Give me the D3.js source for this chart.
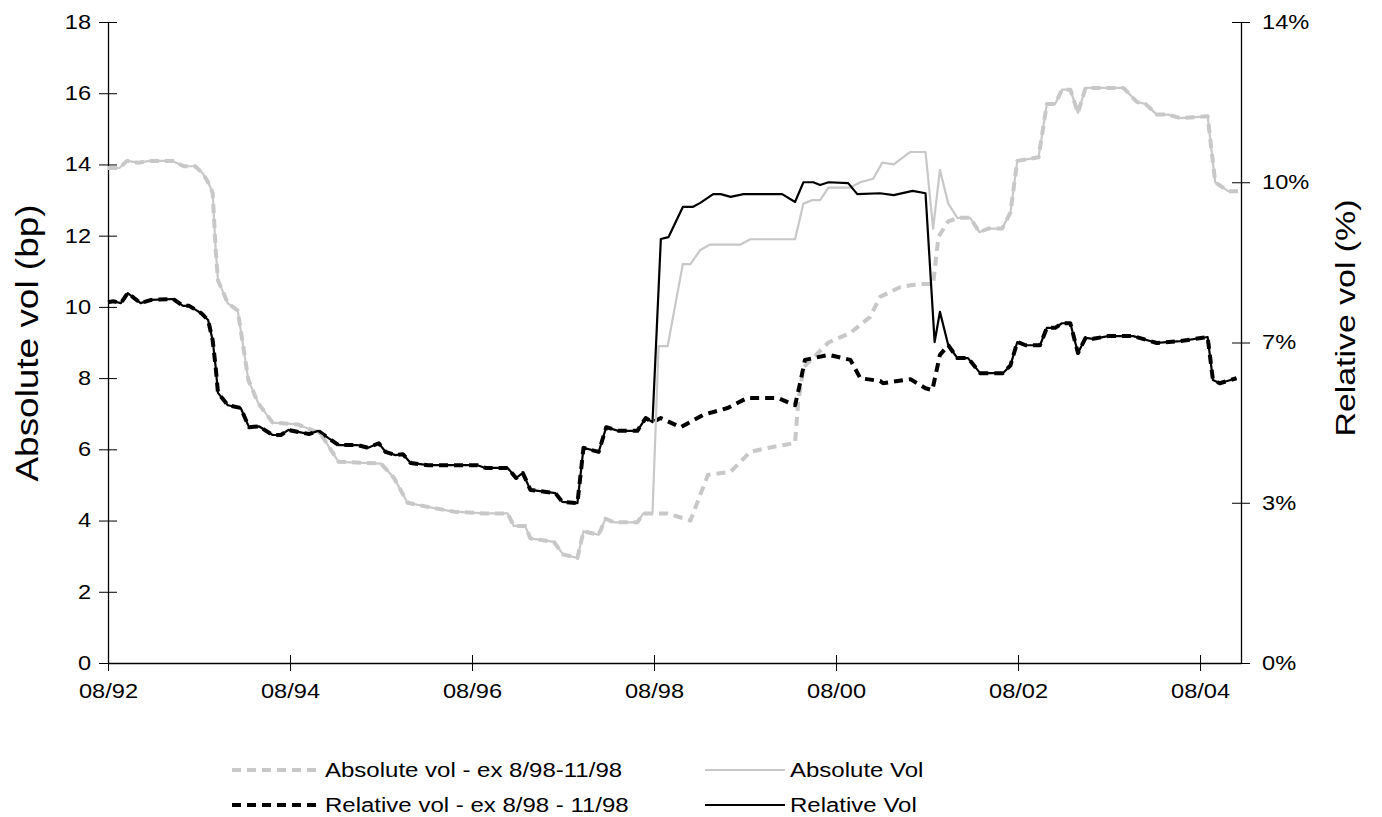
<!DOCTYPE html>
<html>
<head>
<meta charset="utf-8">
<script src="https://cdn.jsdelivr.net/npm/d3@7"></script>
<style>
  body { margin: 0; background: #fff; }
  text { font-family: Arial, "Liberation Sans", sans-serif; fill: #000; }
</style>
</head>
<body>
<div class="chart"></div>
<script>
// months since 08/92
var absMonths = [0,1.5,2.5,4,5.5,8.5,10,11.5,12.5,13.2,13.8,14.2,14.5,15.8,17.1,17.9,18.5,19.8,21.7,25,28,30.4,36,37.7,39.5,43,45.6,49.6,52.7,53.5,55,55.7,58.8,60,61.9,62.7,64.7,65.6,66.7,69.8,70.6,71.8,72.6,73.8,75.8,76.8,78.1,79.4,83.4,84.7,87.4,90.6,91.7,92.9,93.9,95,97.9,99.2,100.9,102.1,103.6,105.8,107.8,108.8,109.7,110.8,112,113.7,114.9,116.1,117.9,119,119.9,122.7,123.8,124.9,125.8,126.9,127.9,128.9,133.9,135.7,136.8,138.3,139.8,141.4,145,146,147.7,149]
var absVol = [13.9,13.9,14.1,14.05,14.1,14.1,13.95,13.95,13.75,13.5,13.2,11.6,10.75,10.1,9.9,8.8,7.95,7.3,6.75,6.7,6.45,5.65,5.6,5.2,4.5,4.35,4.25,4.2,4.2,3.85,3.85,3.5,3.4,3.05,2.95,3.7,3.6,4.05,3.95,3.95,4.2,4.2,8.9,8.9,11.2,11.2,11.6,11.75,11.75,11.9,11.9,11.9,12.9,13.0,13.0,13.35,13.35,13.5,13.6,14.05,14.0,14.35,14.35,12.2,13.85,12.9,12.5,12.5,12.1,12.2,12.2,12.65,14.1,14.2,15.7,15.7,16.1,16.1,15.45,16.15,16.15,15.75,15.7,15.4,15.4,15.3,15.35,13.5,13.25,13.25]

var relMonths = [0,0.7,1.7,2.6,4.3,5.7,8.6,9.9,10.7,12.3,13.2,13.8,14.2,14.5,15.8,17.5,18.6,19.9,21.7,22.8,23.8,26.5,27.7,30.4,32.9,34.3,35.7,36.6,37.9,38.9,39.9,42.2,48.7,49.8,52.7,53.8,54.7,55.7,59.0,59.9,61.9,62.7,64.7,65.7,67.3,69.8,70.9,71.8,72.9,73.9,75.8,77.1,78.1,79.8,80.8,82.1,83.8,88.9,90.6,91.7,93.0,93.9,95.0,97.6,98.8,101.8,103.6,106.1,107.8,109.0,109.7,110.8,112.0,113.4,115.0,118.0,119.0,119.9,121.0,122.9,123.8,124.9,125.8,126.9,127.9,128.9,129.9,131.9,135.2,138.3,141.4,145.0,145.7,146.6,148.8]
var relVol = [7.88,7.9,7.86,8.08,7.86,7.93,7.95,7.8,7.8,7.64,7.49,7.05,6.46,5.9,5.63,5.57,5.15,5.17,4.98,4.98,5.09,5.0,5.07,4.76,4.76,4.7,4.8,4.61,4.54,4.56,4.37,4.32,4.32,4.26,4.26,4.04,4.15,3.78,3.71,3.52,3.49,4.7,4.61,5.15,5.07,5.07,5.35,5.26,9.26,9.3,9.96,9.96,10.05,10.24,10.24,10.18,10.24,10.24,10.07,10.5,10.5,10.44,10.5,10.48,10.24,10.26,10.22,10.31,10.26,7.01,7.67,6.94,6.66,6.66,6.33,6.33,6.5,7.01,6.94,6.94,7.32,7.32,7.42,7.42,6.77,7.1,7.08,7.14,7.14,6.99,7.03,7.12,6.18,6.11,6.22]

// series excluding 8/98-11/98, where they differ from the full series
var absExMonths = [72.2,73.8,76.8,79.1,82.1,84.7,87,90.6,91.0,91.7,95,97.9,100.5,101.8,104.5,106.8,108.8,109.5,110.8]
var absExVol = [4.2,4.2,4.0,5.28,5.37,5.93,6.04,6.18,7.3,8.3,9.0,9.27,9.72,10.28,10.56,10.64,10.64,11.97,12.4]
var relExMonths = [72.9,75.5,78.5,81.7,84.3,88.3,90.6,91.3,91.9,95,97.9,99.2,101.8,102.2,105.8,107.8,108.7,109.7]
var relExVol = [5.35,5.15,5.42,5.57,5.79,5.79,5.63,6.14,6.62,6.73,6.62,6.22,6.16,6.11,6.2,6.0,5.96,6.73]

var xTickMonths = [0,24,48,72,96,120,144]
var xTickLabels = ["08/92","08/94","08/96","08/98","08/00","08/02","08/04"]
var leftTicks = [0,2,4,6,8,10,12,14,16,18]
var rightTicks = [0,3.5,7,10.5,14]
var rightTickLabels = ["0%","3%","7%","10%","14%"]

var width = 1382, height = 817
var svg = d3.select(".chart").append("svg").attr("width", width).attr("height", height)

var x = d3.scaleLinear().domain([0, 149.4]).range([108, 1241])
var yL = d3.scaleLinear().domain([0, 18]).range([663, 22])
var yR = d3.scaleLinear().domain([0, 14]).range([663, 22])

function pts(ms, vs) { return ms.map(function (m, i) { return [m, vs[i]] }) }
function merge(baseM, baseV, exM, exV) {
  var a = exM[0], b = exM[exM.length - 1]
  return pts(baseM, baseV).filter(function (p) { return p[0] < a || p[0] > b })
    .concat(pts(exM, exV)).sort(function (p, q) { return p[0] - q[0] })
}
// the original picture is a bit wider than its fonts: stretch text horizontally
function stretch(sel, k) {
  sel.each(function () {
    this.setAttribute("textLength", this.getComputedTextLength() * k)
    this.setAttribute("lengthAdjust", "spacingAndGlyphs")
  })
}

var absAll = pts(absMonths, absVol), relAll = pts(relMonths, relVol)
var absEx = merge(absMonths, absVol, absExMonths, absExVol)
var relEx = merge(relMonths, relVol, relExMonths, relExVol)

var lineL = d3.line().x(function (d) { return x(d[0]) }).y(function (d) { return yL(d[1]) })
var lineR = d3.line().x(function (d) { return x(d[0]) }).y(function (d) { return yR(d[1]) })

// axes
var axL = svg.append("g").attr("transform", "translate(108,0)")
  .call(d3.axisLeft(yL).tickValues(leftTicks).tickSize(0).tickPadding(17))
axL.selectAll(".tick").append("line").attr("x1", -9).attr("x2", 9).attr("stroke", "#000")
var axR = svg.append("g").attr("transform", "translate(1241,0)")
  .call(d3.axisRight(yR).tickValues(rightTicks).tickFormat(function (d, i) { return rightTickLabels[i] }).tickSize(0).tickPadding(21))
axR.selectAll(".tick").append("line").attr("x1", -9).attr("x2", 9).attr("stroke", "#000")
var axB = svg.append("g").attr("transform", "translate(0,663)")
  .call(d3.axisBottom(x).tickValues(xTickMonths).tickFormat(function (d, i) { return xTickLabels[i] }).tickSize(0).tickPadding(18))
axB.selectAll(".tick").append("line").attr("y1", -8).attr("y2", 8).attr("stroke", "#000")
;[axL, axR, axB].forEach(function (g) {
  g.select(".domain").attr("stroke", "#000").attr("stroke-width", 1.3)
  g.selectAll("text").attr("font-size", 20).attr("font-family", "Arial, 'Liberation Sans', sans-serif")
  stretch(g.selectAll("text"), 1.18)
})
axB.selectAll("text").attr("dy", "0.85em")

svg.append("text").attr("transform", "translate(38,343) rotate(-90)").attr("text-anchor", "middle")
  .attr("font-size", 31).attr("textLength", 277).attr("lengthAdjust", "spacingAndGlyphs").text("Absolute vol (bp)")
svg.append("text").attr("transform", "translate(1355,318) rotate(-90)").attr("text-anchor", "middle")
  .attr("font-size", 27).attr("textLength", 237).attr("lengthAdjust", "spacingAndGlyphs").text("Relative vol (%)")

// lines
var styles = [
  { data: absEx, line: lineL, color: "#c8c8c8", dash: "9,6", w: 4 },
  { data: relEx, line: lineR, color: "#000", dash: "9,6", w: 4 },
  { data: absAll, line: lineL, color: "#c8c8c8", dash: null, w: 2.2 },
  { data: relAll, line: lineR, color: "#000", dash: null, w: 2.2 }
]
styles.forEach(function (s) {
  svg.append("path").datum(s.data).attr("d", s.line).attr("fill", "none")
    .attr("stroke", s.color).attr("stroke-width", s.w).attr("stroke-dasharray", s.dash)
    .attr("stroke-linejoin", "round")
})

// legend
var legend = [
  { label: "Absolute vol - ex 8/98-11/98", x: 232, len: 88, y: 770, s: styles[0] },
  { label: "Relative vol - ex 8/98 - 11/98", x: 232, len: 88, y: 805, s: styles[1] },
  { label: "Absolute Vol", x: 705, len: 80, y: 770, s: styles[2] },
  { label: "Relative Vol", x: 705, len: 80, y: 805, s: styles[3] }
]
legend.forEach(function (l) {
  svg.append("line").attr("x1", l.x).attr("x2", l.x + l.len).attr("y1", l.y).attr("y2", l.y)
    .attr("stroke", l.s.color).attr("stroke-width", l.s.dash ? 4 : 2.2).attr("stroke-dasharray", l.s.dash)
  var t = svg.append("text").attr("x", l.x + l.len + 5).attr("y", l.y + 7).attr("font-size", 20).text(l.label)
  stretch(t, 1.2)
})
</script>
</body>
</html>
